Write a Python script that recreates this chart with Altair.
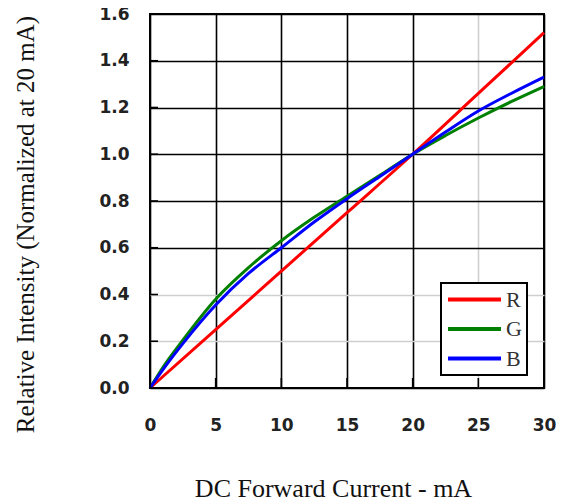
import altair as alt
import pandas as pd

# ---- data ----
current_r = [0, 5, 10, 15, 20, 25, 30]
red_vals = [0.0, 0.25, 0.50, 0.75, 1.00, 1.26, 1.52]

current_gb = [0, 1, 2.5, 5, 7.5, 10, 12.5, 15, 17.5, 20, 22.5, 25, 27.5, 30]
green_vals = [0.0, 0.09, 0.205, 0.38, 0.515, 0.63, 0.73, 0.82, 0.91, 1.00, 1.08, 1.155, 1.225, 1.29]
blue_vals = [0.0, 0.08, 0.19, 0.355, 0.49, 0.60, 0.71, 0.81, 0.905, 1.00, 1.095, 1.185, 1.26, 1.33]

series_names = ["R", "G", "B"]
series_colors = ["#ff0000", "#008000", "#0000ff"]

x_ticks = [0, 5, 10, 15, 20, 25, 30]
y_ticks = [0.0, 0.2, 0.4, 0.6, 0.8, 1.0, 1.2, 1.4, 1.6]

rows = []
for x, v in zip(current_r, red_vals):
    rows.append({"current": x, "intensity": v, "series": "R"})
for x, v in zip(current_gb, green_vals):
    rows.append({"current": x, "intensity": v, "series": "G"})
for x, v in zip(current_gb, blue_vals):
    rows.append({"current": x, "intensity": v, "series": "B"})
df = pd.DataFrame(rows)

ytick_df = pd.DataFrame({"intensity": y_ticks})
xtick_df = pd.DataFrame({"current": x_ticks})

label_font = "DejaVu Sans"
title_font = "Liberation Serif"

x_scale = alt.Scale(domain=[0, 30], nice=False, zero=False)
y_scale = alt.Scale(domain=[0, 1.6], nice=False, zero=False)

x_axis = alt.Axis(
    values=x_ticks,
    title="DC Forward Current - mA",
    titleFont=title_font,
    titleFontSize=26,
    titleFontWeight="normal",
    titleColor="#111",
    titleX=183,
    titleY=108,
    titleBaseline="alphabetic",
    titleAlign="center",
    labelFont=label_font,
    labelFontSize=17,
    labelFontWeight="bold",
    labelColor="#222",
    labelPadding=29,
    labelFlush=False,
    ticks=False,
    domain=False,
    grid=True,
    gridWidth=1.6,
    gridColor={"condition": {"test": "datum.value == 25", "value": "#cfcfcf"}, "value": "#000000"},
    gridOpacity=1,
)

y_axis = alt.Axis(
    values=y_ticks,
    format=".1f",
    title="Relative Intensity (Normalized at 20 mA)",
    titleFont=title_font,
    titleFontSize=25,
    titleFontWeight="normal",
    titleColor="#111",
    titleAngle=270,
    titleX=-117,
    titleY=210,
    titleBaseline="alphabetic",
    titleAlign="center",
    labelFont=label_font,
    labelFontSize=17,
    labelFontWeight="bold",
    labelColor="#222",
    labelPadding=21,
    labelFlush=False,
    ticks=False,
    domain=False,
    grid=True,
    gridWidth=1.6,
    gridColor={
        "condition": {
            "test": "abs(datum.value - 0.2) < 0.01 || abs(datum.value - 0.4) < 0.01",
            "value": "#cfcfcf",
        },
        "value": "#000000",
    },
    gridOpacity=1,
)

lines = alt.Chart(df).mark_line(strokeWidth=3, interpolate="monotone").encode(
    x=alt.X("current:Q", scale=x_scale, axis=x_axis),
    y=alt.Y("intensity:Q", scale=y_scale, axis=y_axis),
    color=alt.Color(
        "series:N",
        scale=alt.Scale(domain=series_names, range=series_colors),
        legend=alt.Legend(
            title=None,
            orient="none",
            legendX=291,
            legendY=269,
            symbolType="stroke",
            symbolSize=2809,
            symbolStrokeWidth=4,
            clipHeight=23,
            labelFont=title_font,
            labelFontSize=22,
            labelColor="#333",
            labelOffset=3,
            rowPadding=6.5,
            padding=5,
            strokeColor="black",
            fillColor="white",
            cornerRadius=0,
        ),
    ),
    order=alt.Order("series:N"),
)

# inward tick marks on left and bottom edges
ytick_layer = alt.Chart(ytick_df).mark_rule(color="black", strokeWidth=1.6).encode(
    x=alt.value(0), x2=alt.value(8), y=alt.Y("intensity:Q", scale=y_scale)
)
xtick_layer = alt.Chart(xtick_df).mark_rule(color="black", strokeWidth=1.6).encode(
    x=alt.X("current:Q", scale=x_scale), y=alt.value(374), y2=alt.value(364)
)

chart = (
    alt.layer(lines, ytick_layer, xtick_layer)
    .properties(
        width=394,
        height=374,
        autosize=alt.AutoSizeParams(type="none"),
        padding={"left": 142, "top": 6, "right": 14, "bottom": 116},
        background="white",
    )
    .configure_view(stroke="black", strokeWidth=2)
    .configure_legend(strokeWidth=2)
)

chart.save("out.html", embed_options={"renderer": "svg", "actions": False})
